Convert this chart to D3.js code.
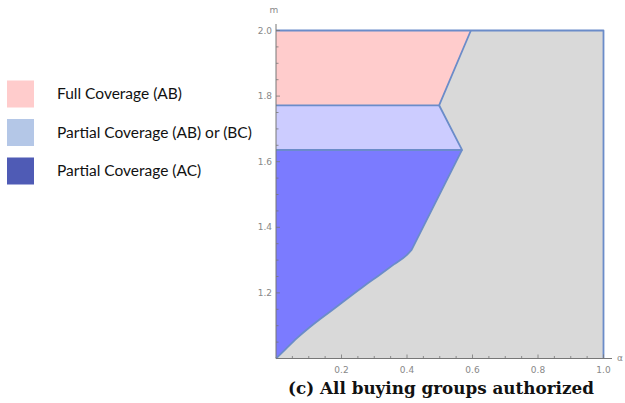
<!DOCTYPE html>
<html>
<head>
<meta charset="utf-8">
<script src="https://cdn.jsdelivr.net/npm/d3@7"></script>
<style>
  body { margin: 0; background: #fff; }
  svg { display: block; }
</style>
</head>
<body>
<div id="chart"></div>
<script>
// region boundaries, as [alpha, m]
const fullAB = [[0, 2.0], [0.595, 2.0], [0.498, 1.772], [0, 1.772]];
const partialABorBC = [[0, 1.772], [0.498, 1.772], [0.568, 1.636], [0, 1.636]];
// AC region: curved lower edge from the origin to the kink, then straight up to the band
const acCurve = [[0, 1.0], [0.028, 1.027], [0.064, 1.062], [0.100, 1.093], [0.140, 1.124],
                 [0.181, 1.155], [0.227, 1.190], [0.270, 1.222], [0.315, 1.254],
                 [0.360, 1.287], [0.399, 1.315], [0.414, 1.331]];
const acUpper = [[0.414, 1.331], [0.568, 1.636], [0, 1.636]];
const xTicks = [0.2, 0.4, 0.6, 0.8, 1.0];
const yTicks = [1.2, 1.4, 1.6, 1.8, 2.0];

const legendLabels = ["Full Coverage (AB)", "Partial Coverage (AB) or (BC)", "Partial Coverage (AC)"];
const legendColors = ["#ffcccc", "#b4c7e7", "#4f5bb5"];

const width = 625, height = 403;

const svg = d3.select("#chart").append("svg")
    .attr("width", width)
    .attr("height", height);

const x = d3.scaleLinear().domain([0, 1]).range([276, 603.5]);
const y = d3.scaleLinear().domain([1, 2]).range([358.5, 30.5]);

const line = d3.line().x(d => x(d[0])).y(d => y(d[1]));
const smooth = d3.line().x(d => x(d[0])).y(d => y(d[1])).curve(d3.curveMonotoneX);
const edge = "#6b8cc9";

// gray background region
svg.append("rect")
    .attr("x", x(0)).attr("y", y(2))
    .attr("width", x(1) - x(0)).attr("height", y(1) - y(2))
    .attr("fill", "#d9d9d9");

svg.append("path")
    .attr("d", line(fullAB) + "Z")
    .attr("fill", "#ffcccc");
svg.append("path")
    .attr("d", line(partialABorBC) + "Z")
    .attr("fill", "#ccccff");
const curvePath = smooth(acCurve);
const upperPath = line(acUpper);
svg.append("path")
    .attr("d", curvePath + "L" + upperPath.slice(1) + "Z")
    .attr("fill", "#7b7bff");

// boundary lines
const boundaryStyle = sel => sel
    .attr("fill", "none")
    .attr("stroke", edge)
    .attr("stroke-width", 1.8)
    .attr("stroke-linejoin", "round");

svg.append("path").attr("d", line(fullAB.slice(1))).call(boundaryStyle);
svg.append("path").attr("d", line(partialABorBC.slice(1))).call(boundaryStyle);
svg.append("path").attr("d", curvePath + "L" + line(acUpper.slice(0, 2)).slice(1)).call(boundaryStyle);
svg.append("path").attr("d", line(acUpper.slice(1))).call(boundaryStyle);
// frame top and right
svg.append("path").attr("d", line([[0, 2], [1, 2], [1, 1]])).call(boundaryStyle);

// axes, Mathematica style ticks pointing inwards
const axisColor = "#777";
const labelColor = "#888";

svg.append("line")
    .attr("x1", x(0)).attr("x2", 612)
    .attr("y1", y(1)).attr("y2", y(1))
    .attr("stroke", axisColor).attr("stroke-width", 1);
svg.append("line")
    .attr("x1", x(0)).attr("x2", x(0))
    .attr("y1", y(1)).attr("y2", 24)
    .attr("stroke", axisColor).attr("stroke-width", 1);

const xMinor = d3.range(1, 21).map(i => i * 0.05);
svg.selectAll(".xt").data(xMinor).enter().append("line")
    .attr("x1", d => x(d)).attr("x2", d => x(d))
    .attr("y1", y(1))
    .attr("y2", (d, i) => y(1) - ((i + 1) % 4 === 0 ? 4 : 2.5))
    .attr("stroke", axisColor).attr("stroke-width", 0.8);

const yMinor = d3.range(1, 21).map(i => 1 + i * 0.05);
svg.selectAll(".yt").data(yMinor).enter().append("line")
    .attr("y1", d => y(d)).attr("y2", d => y(d))
    .attr("x1", x(0))
    .attr("x2", (d, i) => x(0) + ((i + 1) % 4 === 0 ? 4 : 2.5))
    .attr("stroke", axisColor).attr("stroke-width", 0.8);

svg.selectAll(".xl").data(xTicks).enter().append("text")
    .attr("x", d => x(d))
    .attr("y", y(1) + 14)
    .attr("text-anchor", "middle")
    .attr("font-family", "DejaVu Sans, sans-serif")
    .attr("font-size", 9)
    .attr("fill", labelColor)
    .text(d => d3.format(".1f")(d));

svg.selectAll(".yl").data(yTicks).enter().append("text")
    .attr("x", x(0) - 4)
    .attr("y", d => y(d) + 3)
    .attr("text-anchor", "end")
    .attr("font-family", "DejaVu Sans, sans-serif")
    .attr("font-size", 9)
    .attr("fill", labelColor)
    .text(d => d3.format(".1f")(d));

svg.append("text")
    .attr("x", 274).attr("y", 13)
    .attr("text-anchor", "middle")
    .attr("font-family", "DejaVu Sans, sans-serif")
    .attr("font-size", 9)
    .attr("fill", labelColor)
    .text("m");

svg.append("text")
    .attr("x", 620).attr("y", 361)
    .attr("text-anchor", "middle")
    .attr("font-family", "DejaVu Sans, sans-serif")
    .attr("font-size", 9)
    .attr("fill", labelColor)
    .text("α");

// caption
svg.append("text")
    .attr("x", 441).attr("y", 394)
    .attr("text-anchor", "middle")
    .attr("font-family", "DejaVu Serif, serif")
    .attr("font-weight", "bold")
    .attr("font-size", 16.8)
    .attr("fill", "#111")
    .text("(c) All buying groups authorized");

// legend
const legend = svg.append("g");
legendLabels.forEach((lab, i) => {
    const cy = 94 + i * 38.5;
    legend.append("rect")
        .attr("x", 7).attr("y", cy - 13.5)
        .attr("width", 27).attr("height", 27)
        .attr("fill", legendColors[i]);
    legend.append("text")
        .attr("x", 57).attr("y", cy + 5)
        .attr("font-family", "Lato, sans-serif")
        .attr("font-size", 15.5)
        .attr("fill", "#111")
        .text(lab);
});
</script>
</body>
</html>
